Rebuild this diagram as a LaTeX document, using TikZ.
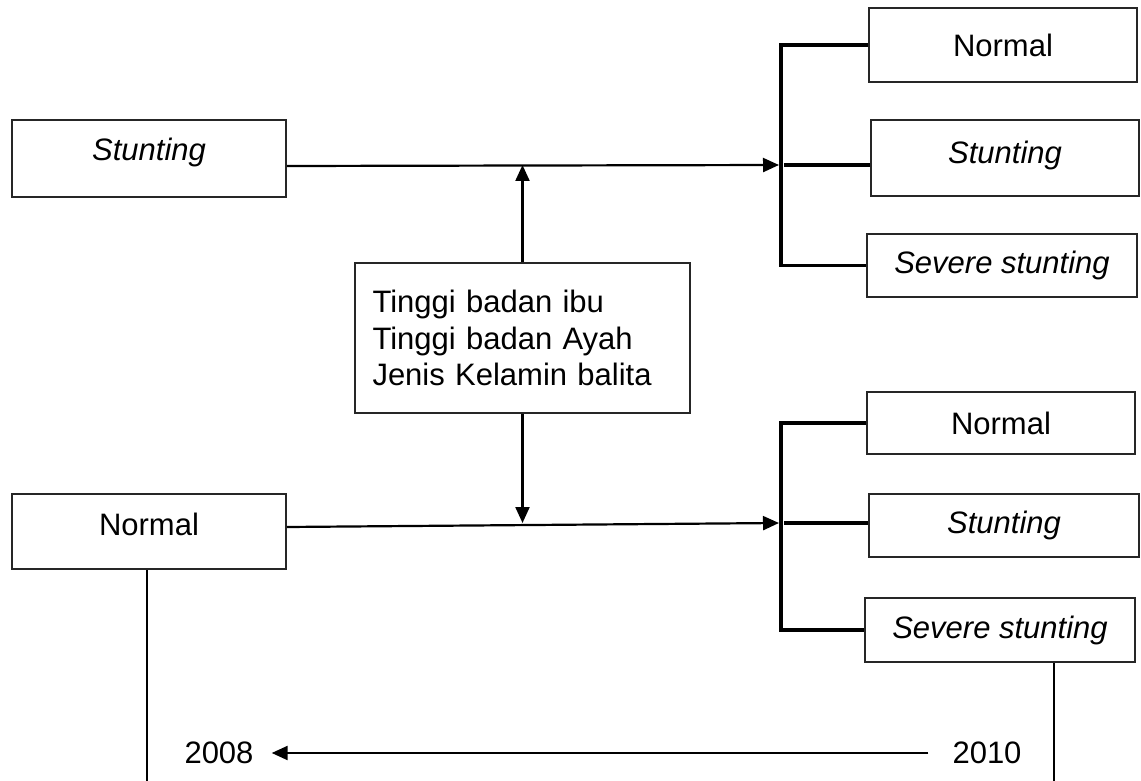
\documentclass[tikz,border=0pt]{standalone}
\usepackage{fontspec}
\setmainfont{Liberation Sans}
\usetikzlibrary{arrows.meta}
\begin{document}
\begin{tikzpicture}[x=1pt,y=-1pt,
  box/.style={draw=black!85, line width=2pt, inner sep=0pt, font=\fontsize{31}{36.5}\selectfont},
  yearlbl/.style={inner sep=0pt, font=\fontsize{31}{36}\selectfont},
  conn/.style={line width=2.2pt},
  brk/.style={line width=3.5pt},
  tip/.style={-{Triangle[length=16pt,width=14pt]}}]
\useasboundingbox (0,0) rectangle (1141,781);
% left boxes
\node[box, minimum width=274pt, minimum height=77pt, text depth=18pt] (s1) at (149,158.5) {\textit{Stunting}};
\node[box, minimum width=274pt, minimum height=75pt, text depth=14pt] (n1) at (149,531.5) {Normal};
% middle box
\node[box, minimum width=335pt, minimum height=150pt, text width=300pt, align=left] (m) at (522.5,338)
  {Tinggi badan ibu\\Tinggi badan Ayah\\Jenis Kelamin balita};
% right top boxes
\node[box, minimum width=268pt, minimum height=74pt] (rt1) at (1003,45) {Normal};
\node[box, minimum width=268pt, minimum height=76pt, text depth=12pt] (rt2) at (1005,158) {\textit{Stunting}};
\node[box, minimum width=270pt, minimum height=63pt] (rt3) at (1002,265.5) {\textit{Severe stunting}};
% right bottom boxes
\node[box, minimum width=268pt, minimum height=62pt] (rb1) at (1001,423) {Normal};
\node[box, minimum width=270pt, minimum height=63pt] (rb2) at (1004,525.5) {\textit{Stunting}};
\node[box, minimum width=270pt, minimum height=64pt] (rb3) at (1000,630) {\textit{Severe stunting}};
% years
\node[yearlbl] (y08) at (219,753) {2008};
\node[yearlbl] (y10) at (987,753) {2010};
% helper coordinates
\coordinate (bx) at (781,0);
\coordinate (b1) at (779,165);
\coordinate (b2) at (779,523);
\coordinate (e1) at (147,781);
\coordinate (e2) at (1054,781);
% top flow
\draw[conn,tip] ([yshift=-7.5pt]s1.east) -- (b1);
\draw[conn,tip] (m.north) -- (m.north |- b1);
\draw[brk] (rt1.west) -- (rt1.west -| bx) -- (rt3.west -| bx) -- (rt3.west);
\draw[brk] ([xshift=3pt]b1 -| bx) -- (rt2.west |- b1);
% bottom flow
\draw[conn,tip] (m.south) -- (m.south |- b2);
\draw[conn,tip] ([yshift=4.5pt]n1.east) -- (b2);
\draw[brk] (rb1.west) -- (rb1.west -| bx) -- (rb3.west -| bx) -- (rb3.west);
\draw[brk] ([xshift=3pt]b2 -| bx) -- (rb2.west |- b2);
% time lines
\draw[conn] (n1.south -| e1) -- (e1);
\draw[conn] (rb3.south -| e2) -- (e2);
\draw[conn,tip,shorten <=24pt,shorten >=18pt] (y10) -- (y08);
\end{tikzpicture}
\end{document}
